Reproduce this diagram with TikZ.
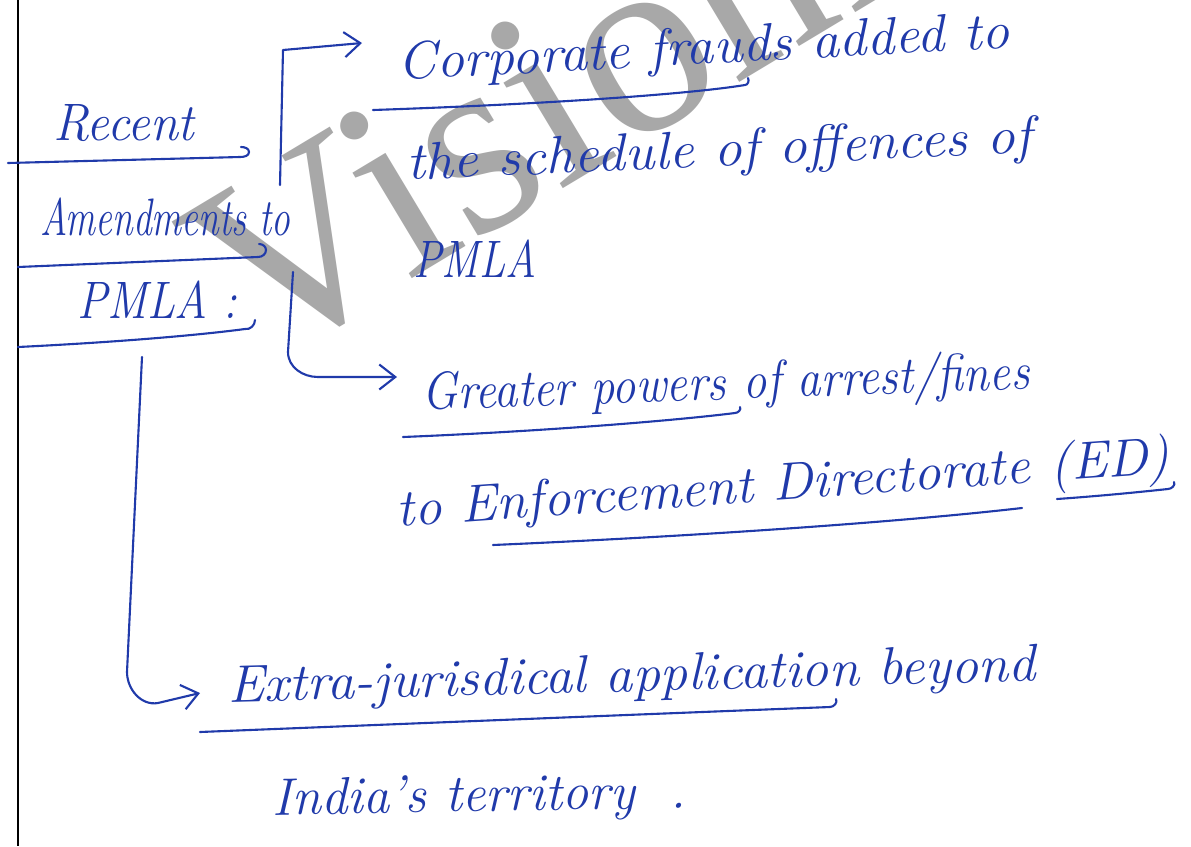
\documentclass[tikz,border=0pt]{standalone}
\usepackage{fontspec}
\newfontfamily\wmfont{Liberation Serif}
\usetikzlibrary{arrows.meta}
\definecolor{ink}{RGB}{32,58,170}
\definecolor{wmgray}{RGB}{168,168,168}
\begin{document}
\begin{tikzpicture}[x=0.02cm,y=-0.02cm,
  hw/.style={anchor=base west, inner sep=0pt, text=ink, font=\fontsize{30}{36}\selectfont\itshape},
  pen/.style={draw=ink, line width=1.2pt, line cap=round, line join=round},
  tip/.style={-{Straight Barb[length=0.32cm,width=0.5cm]}}]
\useasboundingbox (0,0) rectangle (1191,846);
\fill[white] (0,0) rectangle (1191,846);
\begin{scope}
\clip (0,0) rectangle (1191,846);
\node[anchor=base west, rotate=31, text=wmgray, inner sep=0pt,
      font=\wmfont\fontsize{150}{150}\selectfont] (wm) at (258,372) {VisionIAS};
\end{scope}
% page edge
\draw[line width=1.6pt, black] (18,0) -- (18,846);
% texts
\node[hw] (recent) at (53,140) {\scalebox{0.96}[1]{Recent}};
\node[hw] (amend) at (40,235) {\scalebox{0.71}[1]{Amendments to}};
\node[hw] (pmla) at (77,318) {\scalebox{0.86}[1]{PMLA :}};
\node[hw, rotate=3] (corp) at (398,80) {\scalebox{1.05}[1]{Corporate frauds added to}};
\node[hw, rotate=2.5] (sched) at (407,180) {\scalebox{1.07}[1]{the schedule of offences of}};
\node[hw] (pmlb) at (413,277) {\scalebox{0.81}[1]{PMLA}};
\node[hw, rotate=2] (great) at (422,410) {\scalebox{0.9}[1]{Greater powers of arrest/fines}};
\node[hw, rotate=4] (enf) at (397,527) {\scalebox{1.04}[1]{to Enforcement Directorate (ED)}};
\node[hw, rotate=1.5] (extra) at (228,702) {\scalebox{1.04}[1]{Extra-jurisdical application beyond}};
\node[hw, rotate=1] (india) at (272,815) {India's territory\hspace{0.7cm}.};
% underlines
\draw[pen] (8,163) -- (240,157) to[out=0,in=-90] (249,152) to[out=90,in=0] (241,147);
\draw[pen] (18,267) -- (258,257) to[out=0,in=-90] (266,250) to[out=90,in=0] (259,244);
\draw[pen] (18,347) .. controls (120,342) and (200,335) .. (245,329) to[out=-10,in=-90] (255,320);
\draw[pen] (373,110) .. controls (550,104) and (690,94) .. (745,85) to[out=0,in=-60] (748,78);
\draw[pen] (403,437) .. controls (550,431) and (680,420) .. (735,413) to[out=0,in=-60] (740,407);
\draw[pen] (493,545) .. controls (700,536) and (900,522) .. (1022,508);
\draw[pen] (1057,499) .. controls (1100,496) and (1140,492) .. (1168,489) to[out=0,in=-60] (1174,482);
\draw[pen] (200,732) .. controls (400,724) and (650,714) .. (830,707) to[out=0,in=-60] (836,699);
% connectors
\coordinate (b1s) at (280,185);
\coordinate (b1c) at (283,50);
\coordinate (b1e) at (362,43);
\draw[pen, tip] (b1s) -- (b1c) -- (b1e);
\coordinate (b2s) at (293,272);
\coordinate (b2e) at (397,377);
\draw[pen, tip] (b2s) -- (288,352) to[out=-90,in=180] (318,377) -- (b2e);
\coordinate (b3s) at (142,357);
\coordinate (b3e) at (200,693);
\draw[pen, tip] (b3s) -- (127,672) to[out=-90,in=190] (158,703) -- (b3e);
\end{tikzpicture}
\end{document}
